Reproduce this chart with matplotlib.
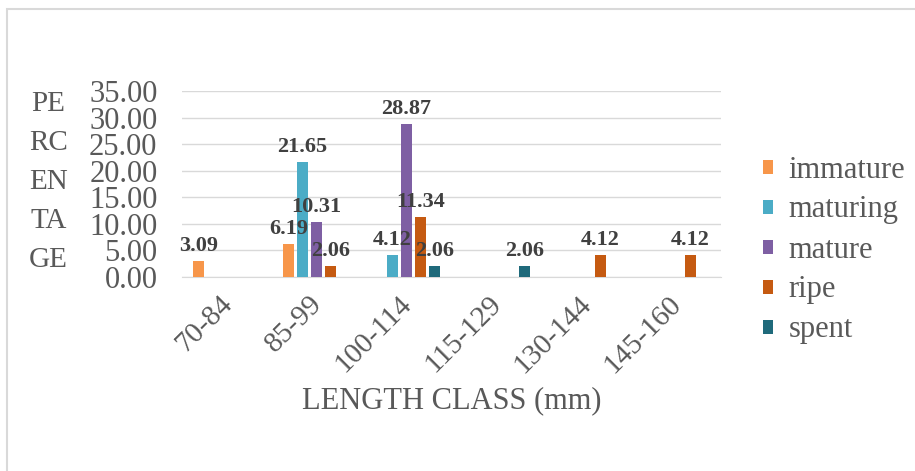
import matplotlib
matplotlib.use("Agg")
import matplotlib.pyplot as plt
import matplotlib.transforms as mtransforms
import numpy as np
from matplotlib.patches import Rectangle

# --- data (percentage per maturity stage and length class) ---
length_classes = ["70-84", "85-99", "100-114", "115-129", "130-144", "145-160"]
stages = ["immature", "maturing", "mature", "ripe", "spent"]
immature = [3.09, 6.19, None, None, None, None]
maturing = [None, 21.65, 4.12, None, None, None]
mature = [None, 10.31, 28.87, None, None, None]
ripe = [None, 2.06, 11.34, None, 4.12, 4.12]
spent = [None, None, 2.06, 2.06, None, None]
yticks = [0, 5, 10, 15, 20, 25, 30, 35]

series = [immature, maturing, mature, ripe, spent]
colors = ["#F7964A", "#4BACC6", "#7E5FA3", "#C55A11", "#1F6A7B"]

plt.rcParams["font.family"] = ["Liberation Serif", "DejaVu Serif"]
grey = "#595959"

fig = plt.figure(figsize=(9.15, 4.71), dpi=100)
ax = fig.add_axes([181.8 / 915, 194 / 471, 539.5 / 915, 186 / 471])

x = np.arange(len(length_classes))
pitch = 0.156
width = 0.117
for i, (name, vals, c) in enumerate(zip(stages, series, colors)):
    v = np.array([np.nan if a is None else a for a in vals], dtype=float)
    xs = x + (i - 2) * pitch
    ax.bar(xs, np.nan_to_num(v), width=width, color=c, label=name, zorder=3)
    for xi, vi in zip(xs, v):
        if not np.isnan(vi):
            ax.annotate(f"{vi:.2f}", (xi, vi), xytext=(0, 7), textcoords="offset points",
                        ha="center", va="baseline", fontsize=16, fontweight="bold",
                        color="#404040", zorder=4)

ax.set_xlim(-0.5, len(length_classes) - 0.5)
ax.set_ylim(0, 35)
ax.set_yticks(yticks)
ax.set_yticklabels([f"{t:.2f}" for t in yticks], fontsize=22, color=grey)
ax.set_xticks(x)
ax.set_xticklabels(length_classes, fontsize=21, color=grey, rotation=45,
                   ha="right", va="top", rotation_mode="anchor")
ax.tick_params(axis="y", length=0, pad=17.5)
ax.tick_params(axis="x", length=0, pad=10)
# nudge the rotated category labels a little to the left
shift = mtransforms.ScaledTranslation(-8 / 100, 0, fig.dpi_scale_trans)
for tick in ax.xaxis.get_major_ticks():
    tick.label1.set_transform(tick.label1.get_transform() + shift)
ax.grid(axis="y", color="#D9D9D9", lw=1, zorder=0)
for s in ["top", "right", "left"]:
    ax.spines[s].set_visible(False)
ax.spines["bottom"].set_color("#D9D9D9")

# y label written as stacked letter pairs, like the original
fig.text(48.5 / 915, 1 - 182 / 471, "PE\nRC\nEN\nTA\nGE", ha="center", va="center",
         fontsize=21, color=grey, linespacing=1.64, multialignment="center")
fig.text(451.5 / 915, 1 - 401 / 471, "LENGTH CLASS (mm)", ha="center", va="center",
         fontsize=22, color=grey)

leg = ax.legend(loc="center left", bbox_to_anchor=(763 / 915, 1 - 250 / 471),
                bbox_transform=fig.transFigure, frameon=False, fontsize=22,
                handlelength=0.33, handleheight=0.33, handletextpad=0.5,
                labelspacing=0.36, borderpad=0, borderaxespad=0)
for t in leg.get_texts():
    t.set_color(grey)

fig.patches.append(Rectangle((7 / 915, -0.02), 1.0, 1 - 9 / 471 + 0.02,
                             transform=fig.transFigure, fill=False,
                             edgecolor="#D9D9D9", lw=1.5))

fig.savefig("out.png", dpi=100)
